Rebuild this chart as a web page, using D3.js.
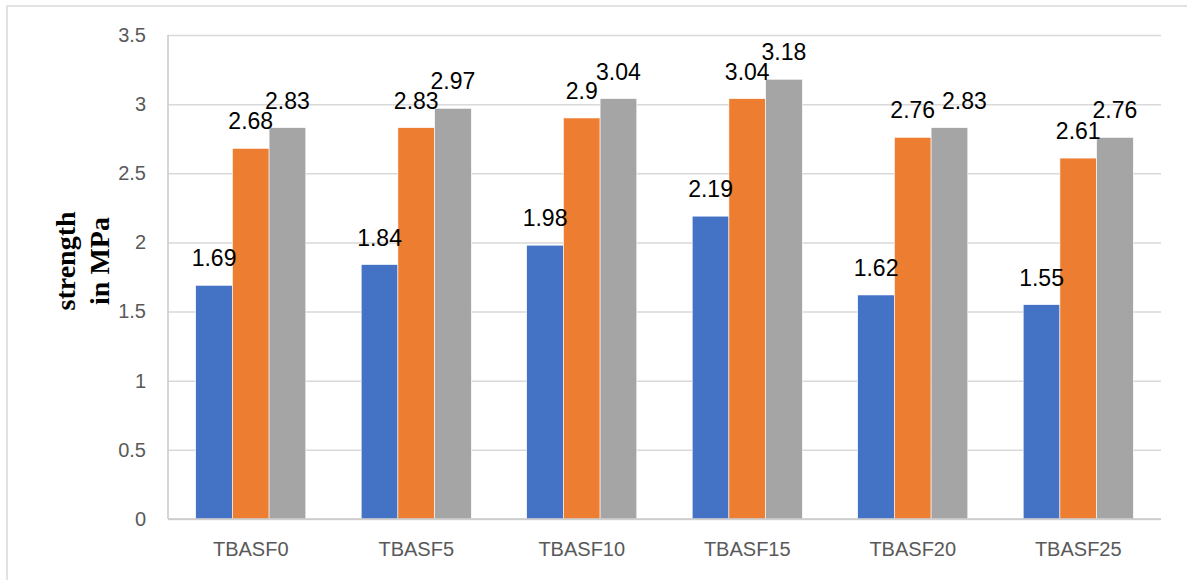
<!DOCTYPE html>
<html>
<head>
<meta charset="utf-8">
<script src="https://cdn.jsdelivr.net/npm/d3@7"></script>
<style>
  body { margin: 0; background: #fff; }
  svg { display: block; }
</style>
</head>
<body>
<div id="chart"></div>
<script>
// data
const categories = ['TBASF0', 'TBASF5', 'TBASF10', 'TBASF15', 'TBASF20', 'TBASF25'];
const seriesNames = ['s1', 's2', 's3'];
const series1 = [1.69, 1.84, 1.98, 2.19, 1.62, 1.55];
const series2 = [2.68, 2.83, 2.9, 3.04, 2.76, 2.61];
const series3 = [2.83, 2.97, 3.04, 3.18, 2.83, 2.76];
const yTicks = [0, 0.5, 1, 1.5, 2, 2.5, 3, 3.5];
const colors = ['#4472C4', '#ED7D31', '#A5A5A5'];

const width = 1187, height = 580;
const margin = { top: 35, right: 26, bottom: 61, left: 168 };

const svg = d3.select('#chart').append('svg')
  .attr('width', width)
  .attr('height', height);

// outer chart border (cut off at right and bottom like the reference)
svg.append('rect')
  .attr('x', 7).attr('y', 6)
  .attr('width', width + 20).attr('height', height + 20)
  .attr('fill', 'none')
  .attr('stroke', '#d9d9d9')
  .attr('stroke-width', 1.5);

const x0 = d3.scaleBand()
  .domain(categories)
  .range([margin.left, width - margin.right])
  .padding(0);

const x1 = d3.scaleBand()
  .domain(seriesNames)
  .range([0, x0.bandwidth()])
  .paddingInner(0)
  .paddingOuter(0.755);

const y = d3.scaleLinear()
  .domain([0, 3.5])
  .range([height - margin.bottom, margin.top]);

// horizontal grid lines
const grid = svg.append('g')
  .attr('transform', `translate(${margin.left},0)`)
  .call(d3.axisLeft(y).tickValues(yTicks).tickSize(-(width - margin.right - margin.left)).tickFormat(''));
grid.select('.domain').remove();
grid.selectAll('.tick line').attr('stroke', '#d9d9d9').attr('stroke-width', 1.5);

// y tick labels
const yAxis = svg.append('g')
  .attr('transform', `translate(${margin.left - 22},0)`)
  .call(d3.axisLeft(y).tickValues(yTicks).tickSize(0).tickPadding(0).tickFormat(d => String(d)));
yAxis.select('.domain').remove();
yAxis.selectAll('text')
  .attr('fill', '#595959')
  .attr('font-family', 'Liberation Sans, Arial, sans-serif')
  .attr('font-size', '20px');

// bars
const rows = categories.map((c, i) => ({ cat: c, values: [series1[i], series2[i], series3[i]] }));

const groups = svg.append('g').selectAll('g')
  .data(rows)
  .enter().append('g')
  .attr('transform', d => `translate(${x0(d.cat)},0)`);

groups.selectAll('rect')
  .data(d => d.values.map((v, j) => ({ key: seriesNames[j], v: v, j: j })))
  .enter().append('rect')
  .attr('x', d => x1(d.key))
  .attr('y', d => y(d.v))
  .attr('width', x1.bandwidth())
  .attr('height', d => y(0) - y(d.v))
  .attr('fill', d => colors[d.j])
  .attr('stroke', '#fff')
  .attr('stroke-width', 0.6);

// value labels; one label was dragged sideways in the original to avoid a clash
const nudgeX = (cat, j) => (cat === 'TBASF20' && j === 2) ? 15 : 0;

groups.selectAll('text')
  .data(d => d.values.map((v, j) => ({ cat: d.cat, key: seriesNames[j], v: v, j: j })))
  .enter().append('text')
  .attr('x', d => x1(d.key) + x1.bandwidth() / 2 + nudgeX(d.cat, d.j))
  .attr('y', d => y(d.v) - 19)
  .attr('text-anchor', 'middle')
  .attr('fill', '#000')
  .attr('font-family', 'Liberation Sans, Arial, sans-serif')
  .attr('font-size', '23px')
  .text(d => String(d.v));

// axis lines (left and bottom)
svg.append('line')
  .attr('x1', margin.left).attr('x2', margin.left)
  .attr('y1', y(3.5)).attr('y2', y(0))
  .attr('stroke', '#c8c8c8').attr('stroke-width', 1.5);
svg.append('line')
  .attr('x1', margin.left).attr('x2', width - margin.right)
  .attr('y1', y(0)).attr('y2', y(0))
  .attr('stroke', '#c8c8c8').attr('stroke-width', 1.5);

// x labels
const xAxis = svg.append('g')
  .attr('transform', `translate(0,${y(0)})`)
  .call(d3.axisBottom(x0).tickSize(0).tickPadding(23));
xAxis.select('.domain').remove();
xAxis.selectAll('text')
  .attr('fill', '#595959')
  .attr('font-family', 'Liberation Sans, Arial, sans-serif')
  .attr('font-size', '20px');

// y title, two lines, rotated
const title = svg.append('text')
  .attr('transform', 'translate(75,261) rotate(-90)')
  .attr('text-anchor', 'middle')
  .attr('font-family', 'Liberation Serif, Times New Roman, serif')
  .attr('font-weight', 'bold')
  .attr('font-size', '28px')
  .attr('fill', '#000');
title.append('tspan').attr('x', 0).attr('dy', 0).text('strength');
title.append('tspan').attr('x', 0).attr('dy', 34).text('in MPa');
</script>
</body>
</html>
